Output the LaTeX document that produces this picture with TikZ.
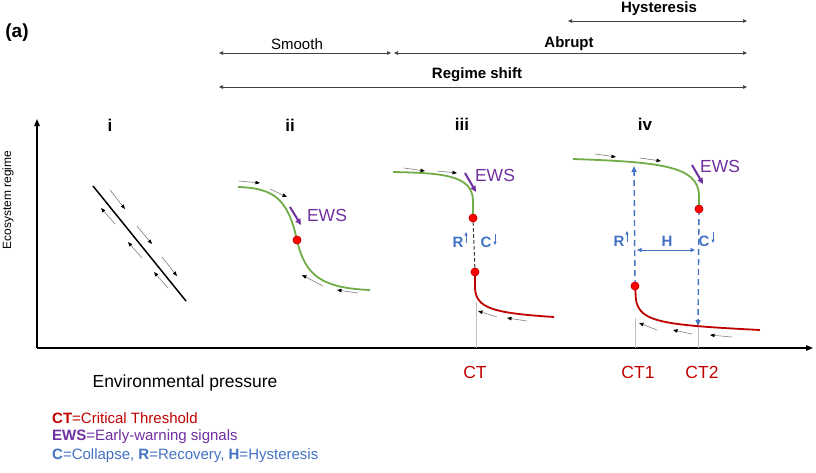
\documentclass[tikz,border=0pt]{standalone}
\usepackage{fontspec}
\setmainfont{Liberation Sans}
\usetikzlibrary{arrows.meta}
\definecolor{cgreen}{HTML}{70AD47}
\definecolor{cred}{HTML}{C00000}
\definecolor{cdot}{HTML}{FF0000}
\definecolor{cpurple}{HTML}{7030A0}
\definecolor{cblue}{HTML}{4472C4}
\newcommand{\fs}[1]{\fontsize{#1}{#1}\selectfont}
\tikzset{
  spanarrow/.style={draw=black!75, line width=0.7pt, {Triangle[length=4pt,width=3.5pt]}-{Triangle[length=4pt,width=3.5pt]}},
  axisline/.style={draw=black, line width=1.2pt, -{Triangle[length=7pt,width=5.5pt]}},
  flow/.style={draw=black!50, line width=0.6pt, -{Triangle[length=4.5pt,width=3.5pt,black]}},
  ewsarrow/.style={draw=cpurple, line width=2pt, -{Triangle[length=6pt,width=5.5pt]}},
  curvegreen/.style={draw=cgreen, line width=1.8pt},
  curvered/.style={draw=cred, line width=1.8pt},
  reddot/.style={circle, fill=cdot, draw=cred, line width=0.5pt, minimum size=8pt, inner sep=0pt},
  guide/.style={draw=black!25, line width=0.6pt},
  bluedash/.style={draw=cblue, line width=1.4pt, dash pattern=on 6pt off 4pt},
  smallblue/.style={draw=cblue, line width=0.6pt, -{Triangle[length=3.5pt,width=3pt]}},
  toplbl/.style={font=\fs{15}, inner sep=0pt},
  paneltitle/.style={font=\fs{17}\bfseries, inner sep=0pt},
  ewslbl/.style={font=\fs{17.5}, text=cpurple, inner sep=0pt},
  ctlbl/.style={font=\fs{17.5}, text=cred, inner sep=0pt},
  rclbl/.style={font=\fs{15}\bfseries, text=cblue, inner sep=0pt},
  leg/.style={font=\fs{15}, anchor=west, inner sep=0pt}
}
\begin{document}
\begin{tikzpicture}[x=1pt,y=-1pt]
\useasboundingbox (0,0) rectangle (816,472);
\fill[white] (0,0) rectangle (816,472);

% label (a)
\node[font=\fs{19}\bfseries, inner sep=0pt] (alabel) at (17,33) {(a)};

% top ranges
\node[toplbl, font=\fs{15}\bfseries] (hyst) at (659,9) {Hysteresis};
\coordinate (h1) at (568,21); \coordinate (h2) at (747,21);
\draw[spanarrow] (h1) -- (h2);
\node[toplbl] (smooth) at (297,44) {Smooth};
\node[toplbl, font=\fs{15}\bfseries] (abrupt) at (569,44) {Abrupt};
\coordinate (s1) at (219,53); \coordinate (s2) at (391,53);
\coordinate (a1) at (394,53); \coordinate (a2) at (747,53);
\draw[spanarrow] (s1) -- (s2);
\draw[spanarrow] (a1) -- (a2);
\node[toplbl, font=\fs{15}\bfseries] (regime) at (477,75) {Regime shift};
\coordinate (r1) at (219,87); \coordinate (r2) at (747,87);
\draw[spanarrow] (r1) -- (r2);

% axes
\coordinate (origin) at (37,348);
\coordinate (ytop) at (37,119);
\coordinate (xend) at (813,348);
\draw[axisline] (origin) -- (ytop);
\draw[axisline] (origin) -- (xend);
\node[font=\fs{12}, rotate=90, inner sep=0pt] (ylabel) at (8,200) {Ecosystem regime};
\node[font=\fs{17.5}, inner sep=0pt] (xlabel) at (185,383) {Environmental pressure};

% panel titles
\node[paneltitle] (ti) at (110,125) {i};
\node[paneltitle] (tii) at (290,125) {ii};
\node[paneltitle] (tiii) at (462,124) {iii};
\node[paneltitle] (tiv) at (645,124) {iv};

% ---- panel i
\coordinate (i1) at (93,186); \coordinate (i2) at (186,301);
\draw[black, line width=1.5pt] (i1) -- (i2);
\draw[flow] (110,190) -- (125,209);
\draw[flow] (137,226) -- (152,244);
\draw[flow] (162,257) -- (177,276);
\draw[flow] (115,224) -- (101,208);
\draw[flow] (142,258) -- (128,242);
\draw[flow] (168,288) -- (154,272);

% ---- panel ii
\coordinate (ii1) at (238,187); \coordinate (ii2) at (370,290);
\node[reddot] (dii) at (297,240) {};
\draw[curvegreen] (ii1) .. controls (275,188) and (288,200) .. (dii.center) .. controls (305,276) and (322,288) .. (ii2);
\node[reddot] at (dii) {};
\draw[flow] (239,181) -- (260,183);
\draw[flow] (270,189) -- (287,197);
\draw[flow] (323,286) -- (302,275);
\draw[flow] (358,293) -- (337,290);
\draw[ewsarrow] (290,207) -- (301,225);
\node[ewslbl] (ewsii) at (327,215) {EWS};

% ---- panel iii
\coordinate (iii1) at (393,172);
\node[reddot] (diiiA) at (473,218) {};
\node[reddot] (diiiB) at (475,272) {};
\coordinate (iii2) at (554,317);
\coordinate (gi3) at (476,302);
\coordinate (gi3b) at (476,348);
\draw[guide] (gi3) -- (gi3b);
\draw[curvegreen] (iii1) .. controls (442,173) and (472,175) .. (473,200) -- (diiiA.center);
\draw[curvered] (diiiB.center) -- (475,288) .. controls (476,308) and (492,313) .. (iii2);
\draw[black!80, line width=1pt, dash pattern=on 3.5pt off 2.5pt] (diiiA) -- (diiiB);
\node[reddot] at (diiiA) {};
\node[reddot] at (diiiB) {};
\draw[flow] (404,168) -- (425,171);
\draw[flow] (437,171) -- (457,173);
\draw[flow] (497,317) -- (478,311);
\draw[flow] (527,321) -- (507,318);
\draw[ewsarrow] (465,173) -- (476,192);
\node[ewslbl] (ewsiii) at (495,175) {EWS};
\node[rclbl] (Riii) at (458,242) {R};
\draw[smallblue] (466,243) -- (466,232);
\node[rclbl] (Ciii) at (486,242) {C};
\draw[smallblue] (495,234) -- (495,245);
\node[ctlbl] (ct) at (475,372) {CT};

% ---- panel iv
\coordinate (iv1) at (573,159);
\node[reddot] (divA) at (699,209) {};
\node[reddot] (divB) at (635,286) {};
\coordinate (iv2) at (760,330);
\coordinate (g41) at (635,318); \coordinate (g41b) at (635,348);
\coordinate (g42) at (698,326); \coordinate (g42b) at (698,348);
\draw[guide] (g41) -- (g41b);
\draw[guide] (g42) -- (g42b);
\coordinate (rtop) at (634,166);
\coordinate (cbot) at (698,326);
\draw[bluedash, -{Triangle[length=6pt,width=5pt]}] (divB.center) -- (rtop);
\draw[bluedash, -{Triangle[length=6pt,width=5pt]}] (divA.center) -- (cbot);
\draw[curvegreen] (iv1) .. controls (660,162) and (698,166) .. (699,195) -- (divA.center);
\draw[curvered] (divB.center) -- (636,300) .. controls (640,322) and (662,325) .. (iv2);
\node[reddot] at (divA) {};
\node[reddot] at (divB) {};
\coordinate (hl) at (637,250); \coordinate (hr) at (695,250);
\draw[draw=cblue, line width=0.8pt, {Triangle[length=4.5pt,width=4pt]}-{Triangle[length=4.5pt,width=4pt]}] (hl) -- (hr);
\node[rclbl] (Hiv) at (667,241) {H};
\node[rclbl] (Riv) at (619,241) {R};
\draw[smallblue] (627,242) -- (627,231);
\node[rclbl] (Civ) at (704,241) {C};
\draw[smallblue] (713,232) -- (713,243);
\draw[flow] (595,154) -- (616,157);
\draw[flow] (640,158) -- (661,161);
\draw[flow] (657,330) -- (639,323);
\draw[flow] (692,334) -- (673,330);
\draw[flow] (732,337) -- (710,335);
\draw[ewsarrow] (692,165) -- (703,184);
\node[ewslbl] (ewsiv) at (720,166) {EWS};
\node[ctlbl] (ct1) at (638,372) {CT1};
\node[ctlbl] (ct2) at (702,372) {CT2};

% legend
\node[leg] (leg1) at (52,418) {\textcolor{cred}{\textbf{CT}=Critical Threshold}};
\node[leg] (leg2) at (52,437) {\textcolor{cpurple}{\textbf{EWS}=Early-warning signals}};
\node[leg] (leg3) at (52,456) {\textcolor{cblue}{\textbf{C}=Collapse, \textbf{R}=Recovery, \textbf{H}=Hysteresis}};
\end{tikzpicture}
\end{document}
